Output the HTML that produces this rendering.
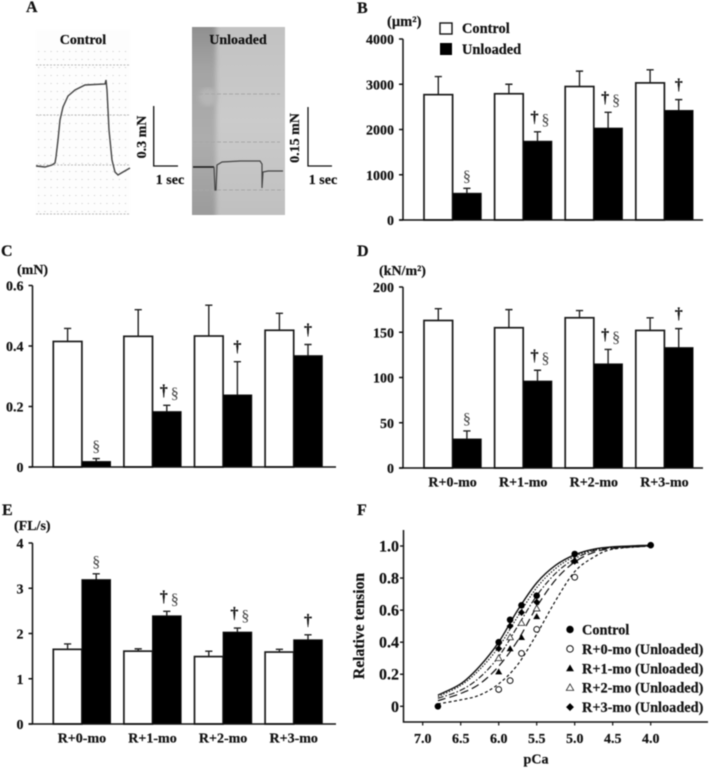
<!DOCTYPE html>
<html>
<head>
<meta charset="utf-8">
<title>Muscle fibre recovery panels</title>
<style>
html,body{margin:0;padding:0;background:#fff;}
svg{display:block;filter:blur(0.4px);}
text{font-family:"Liberation Serif",serif;font-weight:bold;fill:#111;stroke:#111;stroke-width:0.2px;}
</style>
</head>
<body>
<svg id="fig" width="709" height="768" viewBox="0 0 709 768" xmlns="http://www.w3.org/2000/svg">
<defs>
<pattern id="dots" width="6.2" height="8" patternUnits="userSpaceOnUse"><rect x="1" y="3" width="1" height="1" fill="#c8c8c8"/></pattern>
<linearGradient id="darkStrip" x1="0" y1="0" x2="0" y2="1"><stop offset="0" stop-color="#8c8c8c"/><stop offset="0.25" stop-color="#a4a4a4"/><stop offset="0.6" stop-color="#adadad"/><stop offset="1" stop-color="#9a9a9a"/></linearGradient>
<linearGradient id="lightArea" x1="0" y1="0" x2="0" y2="1"><stop offset="0" stop-color="#c2c2c2"/><stop offset="0.5" stop-color="#cbcbcb"/><stop offset="1" stop-color="#c0c0c0"/></linearGradient>
<filter id="softEdge" x="-30%" y="-5%" width="160%" height="110%"><feGaussianBlur stdDeviation="2.5"/></filter>
<clipPath id="photoClip"><rect x="192" y="27" width="93" height="188"/></clipPath>
</defs>

<g>
<text x="26" y="12" font-size="16">A</text>
<g>
<rect x="36" y="30" width="94" height="185" fill="#fdfdfd"/>
<rect x="38" y="50" width="92" height="163" fill="url(#dots)"/>
<path d="M36 65H130M36 115H130M36 165H130M36 214H130" stroke="#bbb" stroke-width="1" stroke-dasharray="2 1.5" fill="none"/>
<path d="M36 166L45 167L52 165L55 163L56 157L58 140L60 120L63 107L68 96L75 90L85 85L105 84L106 80L107 90L109 130L112 160L115 172L118 175L123 172L130 168" fill="none" stroke="#444" stroke-width="1.4"/>
</g>
<text x="83" y="44" font-size="14" text-anchor="middle">Control</text>
<path d="M153.7 106V166H178" fill="none" stroke="#111" stroke-width="1.3"/>
<text transform="translate(146,137) rotate(-90)" font-size="14" text-anchor="middle">0.3 mN</text>
<text x="170" y="184" font-size="14" text-anchor="middle">1 sec</text>
<g clip-path="url(#photoClip)">
<rect x="192" y="27" width="93" height="188" fill="url(#lightArea)"/>
<rect x="185" y="20" width="31" height="200" fill="url(#darkStrip)" filter="url(#softEdge)"/>
<circle cx="208" cy="97" r="9" fill="#b6b6b6" filter="url(#softEdge)"/>
<path d="M193 94H280M193 142H280M193 190H284" stroke="#a8a8a8" stroke-width="1" stroke-dasharray="4 2" fill="none"/>
<path d="M193 167L214 167" fill="none" stroke="#151515" stroke-width="1.6"/>
<path d="M214 167L215 190L216 190L217 165L222 162L240 161L260 161L262 164L262 188L263 172L268 171L283 171" fill="none" stroke="#444" stroke-width="1.2"/>
</g>
<text x="238" y="44" font-size="14" text-anchor="middle">Unloaded</text>
<path d="M308 107V166H332" fill="none" stroke="#111" stroke-width="1.3"/>
<text transform="translate(299,138) rotate(-90)" font-size="14" text-anchor="middle">0.15 mN</text>
<text x="323" y="184" font-size="14" text-anchor="middle">1 sec</text>
</g>
</svg>

<script>
/* Panel B: cross-sectional area */
const bControl = [2770, 2790, 2950, 3030];
const bControlErrTop = [3170, 3000, 3290, 3320];
const bUnloaded = [590, 1740, 2030, 2420];
const bUnloadedErrTop = [700, 1950, 2380, 2660];
const bTicks = [0, 1000, 2000, 3000, 4000];
const bTickLabels = ['0', '1000', '2000', '3000', '4000'];

/* Panel C: force */
const cControl = [0.415, 0.432, 0.433, 0.452];
const cControlErrTop = [0.458, 0.52, 0.535, 0.508];
const cUnloaded = [0.018, 0.183, 0.238, 0.368];
const cUnloadedErrTop = [0.028, 0.204, 0.348, 0.405];
const cTicks = [0, 0.2, 0.4, 0.6];
const cTickLabels = ['0', '0.2', '0.4', '0.6'];

/* Panel D: specific force */
const dControl = [163, 155, 166, 152];
const dControlErrTop = [176, 175, 174, 166];
const dUnloaded = [32, 96, 115, 133];
const dUnloadedErrTop = [41, 108, 131, 154];
const dTicks = [0, 50, 100, 150, 200];
const dTickLabels = ['0', '50', '100', '150', '200'];

/* Panel E: shortening velocity */
const eControl = [1.65, 1.61, 1.49, 1.59];
const eControlErrTop = [1.77, 1.66, 1.61, 1.65];
const eUnloaded = [3.19, 2.39, 2.03, 1.86];
const eUnloadedErrTop = [3.32, 2.49, 2.12, 1.97];
const eTicks = [0, 1, 2, 3, 4];
const eTickLabels = ['0', '1', '2', '3', '4'];

/* Shared bar-chart categories and significance marks */
const categories = ['R+0-mo', 'R+1-mo', 'R+2-mo', 'R+3-mo'];
const daggerMarks = [false, true, true, true];
const sectionMarks = [true, true, true, false];
const cDaggerMarks = [false, true, true, true];
const cSectionMarks = [true, true, false, false];

/* Panel F: pCa-tension relation */
const pCaTicks = [7.0, 6.5, 6.0, 5.5, 5.0, 4.5, 4.0];
const pCaTickLabels = ['7.0', '6.5', '6.0', '5.5', '5.0', '4.5', '4.0'];
const tensionTicks = [0, 0.2, 0.4, 0.6, 0.8, 1.0];
const tensionTickLabels = ['0', '0.2', '0.4', '0.6', '0.8', '1.0'];
const curvePCa = [6.8, 6.5, 6.25, 6.0, 5.75, 5.5, 5.25, 5.0, 4.75, 4.5, 4.0];
const curveControl = [0.07, 0.14, 0.25, 0.40, 0.60, 0.77, 0.88, 0.945, 0.98, 0.995, 1.005];
const curveR0 = [0.015, 0.04, 0.07, 0.14, 0.26, 0.45, 0.66, 0.84, 0.93, 0.98, 1.0];
const curveR1 = [0.035, 0.08, 0.14, 0.25, 0.41, 0.62, 0.79, 0.90, 0.96, 0.985, 1.0];
const curveR2 = [0.05, 0.10, 0.18, 0.31, 0.50, 0.69, 0.83, 0.92, 0.97, 0.99, 1.0];
const curveR3 = [0.06, 0.13, 0.23, 0.37, 0.56, 0.74, 0.86, 0.935, 0.975, 0.99, 1.0];
const pointPCaControl = [6.8, 6.0, 5.85, 5.7, 5.5, 5.0, 4.0];
const pointsControl = [0, 0.40, 0.54, 0.63, 0.69, 0.95, 1.005];
const pointPCaUnloaded = [6.0, 5.85, 5.7, 5.5, 5.0];
const pointsR0 = [0.105, 0.16, 0.33, 0.48, 0.805];
const pointsR1 = [0.215, 0.36, 0.43, 0.56, 0.91];
const pointsR2 = [0.30, 0.43, 0.52, 0.61, 0.91];
const pointsR3 = [0.36, 0.50, 0.585, 0.65, 0.905];

const svg = document.getElementById('fig');
const NS = 'http://www.w3.org/2000/svg';
function mk(tag, attrs, parent) {
  const el = document.createElementNS(NS, tag);
  for (const k in attrs) el.setAttribute(k, attrs[k]);
  (parent || svg).appendChild(el);
  return el;
}
function linear(d0, d1, r0, r1) {
  return function (v) { return r0 + (v - d0) * (r1 - r0) / (d1 - d0); };
}
function drawText(str, attrs, parent, name) {
  const t = mk('text', attrs, parent);
  t.textContent = str;
  
  
  return t;
}

function barPanel(cfg) {
  const g = mk('g', {});
  
  
  const y = linear(cfg.dMin, cfg.dMax, cfg.y0, cfg.yTop);
  const bw = 28.6, step = 70.6;
  function bandX(i) { return cfg.firstX + step * i; }

  cfg.control.forEach(function (v, i) {
    const x = bandX(i);
    const line = mk('path', { d: 'M' + (x + bw / 2) + ' ' + y(v) + 'V' + y(cfg.controlTop[i]) + 'm-3.6 0h7.2', fill: 'none', stroke: '#222', 'stroke-width': 1.4 }, g);
    
    
    const r = mk('rect', { x: x, y: y(v), width: bw, height: cfg.y0 - y(v), fill: '#fff', stroke: '#1a1a1a', 'stroke-width': 1.7 }, g);
    
    
  });
  cfg.unloaded.forEach(function (v, i) {
    const x = bandX(i) + bw;
    const cx = x + bw / 2;
    const line = mk('path', { d: 'M' + cx + ' ' + y(v) + 'V' + y(cfg.unloadedTop[i]) + 'm-3.6 0h7.2', fill: 'none', stroke: '#222', 'stroke-width': 1.4 }, g);
    
    
    const r = mk('rect', { x: x, y: y(v), width: bw, height: cfg.y0 - y(v), fill: '#000', stroke: '#111', 'stroke-width': 1 }, g);
    
    
    const both = cfg.dagger[i] && cfg.section[i];
    const base = y(cfg.unloadedTop[i]) - 8;
    if (cfg.dagger[i]) {
      drawText('\u2020', { x: both ? cx - 3 : cx, y: base - 2, 'font-size': 16, 'text-anchor': 'middle' }, g, 'significance-dagger');
    }
    if (cfg.section[i]) {
      const s = drawText('\u00a7', { x: both ? cx + 8 : cx, y: base + 1, 'font-size': 16, 'text-anchor': 'middle' }, g, 'significance-section');
      s.style.fontWeight = 'normal';
      s.style.fill = '#444';
      s.style.stroke = 'none';
    }
  });

  const axis = mk('path', { d: 'M' + cfg.axisX + ' ' + cfg.yTop + 'V' + cfg.y0 + 'M' + (cfg.axisX - 4) + ' ' + cfg.y0 + 'H' + cfg.axisEnd, fill: 'none', stroke: '#111', 'stroke-width': 1.5 }, g);
  
  
  cfg.ticks.forEach(function (v, i) {
    const tick = mk('line', { x1: cfg.axisX - 4, x2: cfg.axisX, y1: y(v), y2: y(v), stroke: '#111', 'stroke-width': 1.5 }, g);
    
    
    drawText(cfg.tickLabels[i], { x: cfg.axisX - 9, y: y(v) + 5, 'font-size': 14, 'text-anchor': 'end' }, g, 'y-tick-label');
  });
  if (cfg.showCategories) {
    categories.forEach(function (c, i) {
      drawText(c, { x: bandX(i) + bw, y: cfg.y0 + 18.5, 'font-size': 14, 'text-anchor': 'middle' }, g, 'category-label');
    });
  }
  return g;
}

barPanel({ id: 'panel-b', control: bControl, controlTop: bControlErrTop, unloaded: bUnloaded, unloadedTop: bUnloadedErrTop, ticks: bTicks, tickLabels: bTickLabels, dMin: 0, dMax: 4000, y0: 220, yTop: 39, axisX: 403, axisEnd: 703, firstX: 424, dagger: daggerMarks, section: sectionMarks, showCategories: false });
barPanel({ id: 'panel-c', control: cControl, controlTop: cControlErrTop, unloaded: cUnloaded, unloadedTop: cUnloadedErrTop, ticks: cTicks, tickLabels: cTickLabels, dMin: 0, dMax: 0.6, y0: 467, yTop: 285.5, axisX: 32.5, axisEnd: 336, firstX: 53.3, dagger: cDaggerMarks, section: cSectionMarks, showCategories: false });
barPanel({ id: 'panel-d', control: dControl, controlTop: dControlErrTop, unloaded: dUnloaded, unloadedTop: dUnloadedErrTop, ticks: dTicks, tickLabels: dTickLabels, dMin: 0, dMax: 200, y0: 468, yTop: 287, axisX: 403, axisEnd: 703, firstX: 424, dagger: daggerMarks, section: sectionMarks, showCategories: true });
barPanel({ id: 'panel-e', control: eControl, controlTop: eControlErrTop, unloaded: eUnloaded, unloadedTop: eUnloadedErrTop, ticks: eTicks, tickLabels: eTickLabels, dMin: 0, dMax: 4, y0: 724, yTop: 543, axisX: 32.5, axisEnd: 336, firstX: 53.3, dagger: daggerMarks, section: sectionMarks, showCategories: true });

drawText('B', { x: 357, y: 13, 'font-size': 16 }, svg, 'panel-b-letter');
drawText('C', { x: 1, y: 256, 'font-size': 16 }, svg, 'panel-c-letter');
drawText('D', { x: 357, y: 256, 'font-size': 16 }, svg, 'panel-d-letter');
drawText('E', { x: 2, y: 515, 'font-size': 16 }, svg, 'panel-e-letter');
drawText('F', { x: 357, y: 515, 'font-size': 16 }, svg, 'panel-f-letter');
drawText('(\u00b5m\u00b2)', { x: 387, y: 26, 'font-size': 14.5 }, svg, 'panel-b-unit');
drawText('(mN)', { x: 17, y: 274, 'font-size': 14 }, svg, 'panel-c-unit');
drawText('(kN/m\u00b2)', { x: 379, y: 275, 'font-size': 14 }, svg, 'panel-d-unit');
drawText('(FL/s)', { x: 14, y: 530, 'font-size': 14 }, svg, 'panel-e-unit');

const swatchC = mk('rect', { x: 440, y: 23, width: 12, height: 11, fill: '#fff', stroke: '#111', 'stroke-width': 1.4 });


const swatchU = mk('rect', { x: 440, y: 43, width: 12, height: 12, fill: '#000' });


drawText('Control', { x: 462, y: 33, 'font-size': 14.4 }, svg, 'legend-entry-control');
drawText('Unloaded', { x: 462, y: 54, 'font-size': 14.4 }, svg, 'legend-entry-unloaded');

/* Panel F drawing */
const panelF = mk('g', {});


const fx = linear(7.0, 4.0, 422.7, 650.7);
const fy = linear(0, 1.0, 706.3, 546);

function smoothPath(xs, ys) {
  const pts = xs.map(function (v, i) { return [fx(v), fy(ys[i])]; });
  let d = 'M' + pts[0][0] + ' ' + pts[0][1];
  for (let i = 0; i < pts.length - 1; i++) {
    const p0 = pts[Math.max(0, i - 1)], p1 = pts[i], p2 = pts[i + 1], p3 = pts[Math.min(pts.length - 1, i + 2)];
    d += 'C' + (p1[0] + (p2[0] - p0[0]) / 6) + ' ' + (p1[1] + (p2[1] - p0[1]) / 6) + ' ' +
      (p2[0] - (p3[0] - p1[0]) / 6) + ' ' + (p2[1] - (p3[1] - p1[1]) / 6) + ' ' + p2[0] + ' ' + p2[1];
  }
  return d;
}
function drawMarker(kind, cx, cy, k, parent, name) {
  let el;
  if (kind === 'disc') el = mk('circle', { cx: cx, cy: cy, r: 3.3 * k, fill: '#000' }, parent);
  if (kind === 'ring') el = mk('circle', { cx: cx, cy: cy, r: 2.9 * k, fill: '#fff', stroke: '#111', 'stroke-width': 1 }, parent);
  if (kind === 'tri') el = mk('path', { d: 'M' + cx + ' ' + (cy - 3.4 * k) + 'l' + 3.5 * k + ' ' + 6 * k + 'h' + (-7 * k) + 'z', fill: '#000' }, parent);
  if (kind === 'otri') el = mk('path', { d: 'M' + cx + ' ' + (cy - 3.4 * k) + 'l' + 3.3 * k + ' ' + 5.8 * k + 'h' + (-6.6 * k) + 'z', fill: '#fff', stroke: '#222', 'stroke-width': 0.8 }, parent);
  if (kind === 'dia') el = mk('path', { d: 'M' + cx + ' ' + (cy - 3.5 * k) + 'l' + 3.5 * k + ' ' + 3.5 * k + 'l' + (-3.5 * k) + ' ' + 3.5 * k + 'l' + (-3.5 * k) + ' ' + (-3.5 * k) + 'z', fill: '#000' }, parent);
  
  
  return el;
}

const curveSpecs = [
  { name: 'curve-r0', v: curveR0, dash: '3 2.4', w: 1.2 },
  { name: 'curve-r1', v: curveR1, dash: '8 4', w: 1.2 },
  { name: 'curve-r2', v: curveR2, dash: '6 2 1.5 2', w: 1.1 },
  { name: 'curve-r3', v: curveR3, dash: '1.5 1.5', w: 1.1 },
  { name: 'curve-control', v: curveControl, dash: 'none', w: 1.4 }
];
curveSpecs.forEach(function (c) {
  const p = mk('path', { d: smoothPath(curvePCa, c.v), fill: 'none', stroke: '#111', 'stroke-width': c.w, 'stroke-dasharray': c.dash }, panelF);
  
  
});
pointsR0.forEach(function (v, i) { drawMarker('ring', fx(pointPCaUnloaded[i]), fy(v), 1, panelF, 'point-r0'); });
pointsR2.forEach(function (v, i) { drawMarker('otri', fx(pointPCaUnloaded[i]), fy(v), 1, panelF, 'point-r2'); });
pointsR1.forEach(function (v, i) { drawMarker('tri', fx(pointPCaUnloaded[i]), fy(v), 1, panelF, 'point-r1'); });
pointsR3.forEach(function (v, i) { drawMarker('dia', fx(pointPCaUnloaded[i]), fy(v), 1, panelF, 'point-r3'); });
pointsControl.forEach(function (v, i) { drawMarker('disc', fx(pointPCaControl[i]), fy(v), 1, panelF, 'point-control'); });

const fAxes = mk('path', { d: 'M403.5 530V722H708', fill: 'none', stroke: '#111', 'stroke-width': 1.5 }, panelF);


tensionTicks.forEach(function (v, i) {
  const tick = mk('line', { x1: 400, x2: 403.5, y1: fy(v), y2: fy(v), stroke: '#111', 'stroke-width': 1.4 }, panelF);
  
  
  drawText(tensionTickLabels[i], { x: 399, y: fy(v) + 5.5, 'font-size': 16, 'text-anchor': 'end' }, panelF, 'y-tick-label');
});
pCaTicks.forEach(function (v, i) {
  const tick = mk('line', { x1: fx(v), x2: fx(v), y1: 722, y2: 725.5, stroke: '#111', 'stroke-width': 1.2 }, panelF);
  
  
  drawText(pCaTickLabels[i], { x: fx(v), y: 743, 'font-size': 14, 'text-anchor': 'middle' }, panelF, 'x-tick-label');
});
drawText('pCa', { x: 536, y: 763.5, 'font-size': 14, 'text-anchor': 'middle' }, panelF, 'x-axis-title');
drawText('Relative tension', { transform: 'translate(364,626) rotate(-90)', 'font-size': 15.6, 'text-anchor': 'middle' }, panelF, 'y-axis-title');

const legendMarks = ['disc', 'ring', 'tri', 'otri', 'dia'];
const legendLabels = ['Control', 'R+0-mo (Unloaded)', 'R+1-mo (Unloaded)', 'R+2-mo (Unloaded)', 'R+3-mo (Unloaded)'];
const legendRowsTop = 629.5;
const legendRowStep = 19.4;
legendLabels.forEach(function (label, i) {
  const rowY = legendRowsTop + i * legendRowStep;
  drawMarker(legendMarks[i], 570, rowY, 1.12, panelF, 'legend-marker');
  drawText(label, { x: 582, y: rowY + 5, 'font-size': 14.3 }, panelF, 'legend-entry');
});
</script>
</body>
</html>
